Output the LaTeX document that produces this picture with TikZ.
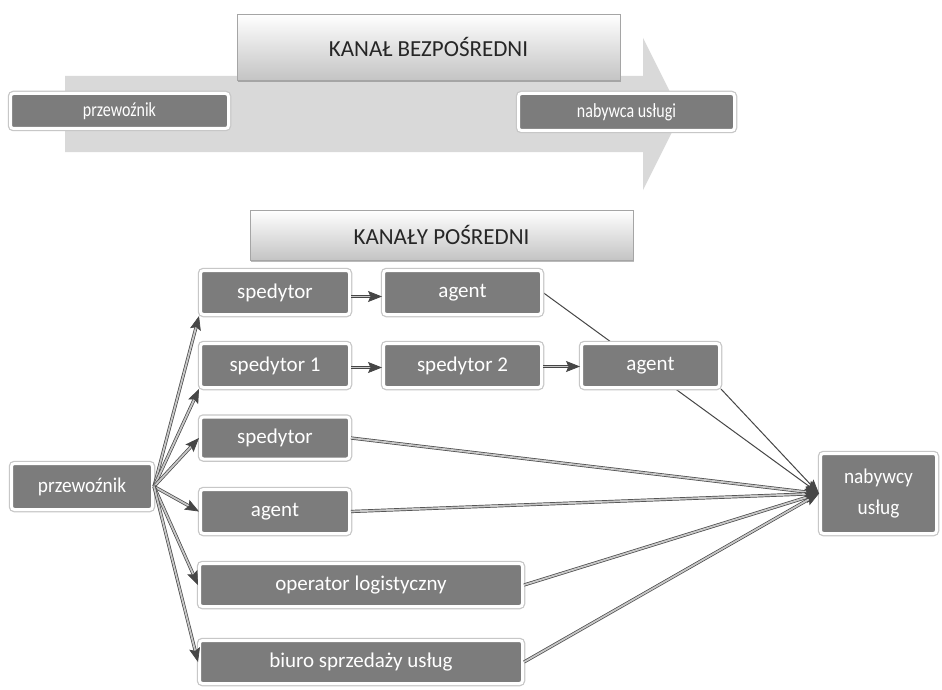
\documentclass[tikz,border=0pt]{standalone}
\usepackage{fontspec}
\setmainfont{Carlito}
\usepackage{graphicx}
\usetikzlibrary{calc,shadows,arrows.meta}
\pgfdeclarelayer{bg}
\pgfsetlayers{bg,main}
\definecolor{boxgray}{RGB}{124,124,124}
\definecolor{bandgray}{RGB}{217,217,217}
\definecolor{linegray}{RGB}{70,70,70}
\definecolor{titlebot}{RGB}{196,196,196}
\definecolor{titleedge}{RGB}{165,165,165}
\tikzset{
  darkbox/.style={rectangle, rounded corners=3pt, fill=boxgray, draw=white, line width=3pt,
    text=white, inner sep=0pt, align=center, preaction={draw=black!22, line width=5.5pt}},
  titlebox/.style={rectangle, top color=white, bottom color=titlebot, draw=titleedge,
    line width=0.8pt, text=black!85, inner sep=0pt,
    drop shadow={shadow xshift=1.2pt, shadow yshift=-2.2pt, opacity=0.45, fill=black!60}},
  bigtxt/.style={font=\fontsize{21}{31}\selectfont},
  smalltxt/.style={font=\fontsize{20}{22}\selectfont},
  titletxt/.style={font=\fontsize{23}{25}\selectfont},
  dbl/.style={draw=linegray, line width=0.7pt, double=black!22, double distance=1.8pt},
  tipln/.style={draw=linegray, line width=0.7pt, -{Stealth[length=14pt,width=11pt,inset=2.5pt]}},
  sgl/.style={draw=linegray, line width=1pt, -{Stealth[length=14pt,width=11pt,inset=2.5pt]}},
}
\newcommand\dblarrow[2]{\draw[dbl] (#1) -- ($(#2)!10pt!(#1)$); \draw[tipln] ($(#2)!11pt!(#1)$) -- (#2);}
\newcommand\narrowtxt[1]{\scalebox{0.8}[1]{#1}}
\begin{document}
\begin{tikzpicture}[x=1pt,y=-1pt]
\useasboundingbox (0,0) rectangle (942,690);
\begin{pgfonlayer}{bg}
\fill[white] (0,0) rectangle (942,690);
\end{pgfonlayer}
% direct channel
\fill[bandgray] (65,76) -- (643,76) -- (643,38) -- (681,114) -- (643,190) -- (643,152) -- (65,152) -- cycle;
\node[titlebox, titletxt, minimum width=383pt, minimum height=66pt] (kb) at (428.5,47) {KANAŁ BEZPOŚREDNI};
\node[darkbox, smalltxt, minimum width=218pt, minimum height=35pt] (tprz) at (119.5,111) {\narrowtxt{przewoźnik}};
\node[darkbox, smalltxt, minimum width=216pt, minimum height=37pt] (tnab) at (626.5,112) {\narrowtxt{nabywca usługi}};
% indirect channels
\node[titlebox, titletxt, minimum width=383pt, minimum height=50pt] (kp) at (441.5,235) {KANAŁY POŚREDNI};
\node[darkbox, bigtxt, minimum width=149pt, minimum height=44pt] (sp1) at (275,292.5) {spedytor};
\node[darkbox, bigtxt, minimum width=158pt, minimum height=44pt] (ag1) at (462.5,292.5) {agent};
\node[darkbox, bigtxt, minimum width=149pt, minimum height=44pt] (spx) at (275,365.5) {spedytor 1};
\node[darkbox, bigtxt, minimum width=158pt, minimum height=44pt] (sp2) at (462.5,365.5) {spedytor 2};
\node[darkbox, bigtxt, minimum width=138pt, minimum height=44pt] (ag2) at (650.5,365.5) {agent};
\node[darkbox, bigtxt, minimum width=149pt, minimum height=42pt] (sp3) at (275,438) {spedytor};
\node[darkbox, bigtxt, minimum width=141pt, minimum height=46pt] (prz) at (82,486.5) {\scalebox{0.92}[1]{przewoźnik}};
\node[darkbox, bigtxt, minimum width=149pt, minimum height=44pt] (ag4) at (275,511.5) {agent};
\node[darkbox, bigtxt, minimum width=323pt, minimum height=43pt] (op) at (361,585) {operator logistyczny};
\node[darkbox, bigtxt, minimum width=323pt, minimum height=43pt] (bs) at (361,662) {biuro sprzedaży usług};
\node[darkbox, bigtxt, minimum width=116pt, minimum height=80pt] (nab) at (878.5,493.5) {\scalebox{0.92}[1]{nabywcy}\\\scalebox{0.92}[1]{usług}};
% connectors
\begin{pgfonlayer}{bg}
\draw[sgl] (ag1.east) -- (nab.west);
\end{pgfonlayer}
\draw[sgl] (ag2.south east) -- (nab.west);
\coordinate (r1a) at ([yshift=-4pt]sp1.east);
\coordinate (r1b) at ([yshift=-4pt]ag1.west);
\coordinate (r2a) at ([yshift=-2pt]spx.east);
\coordinate (r2b) at ([yshift=-2pt]sp2.west);
\coordinate (r3a) at ([yshift=-1pt]sp2.east);
\coordinate (r3b) at ([yshift=-1pt]ag2.west);
\dblarrow{r1a}{r1b}
\dblarrow{r2a}{r2b}
\dblarrow{r3a}{r3b}
\dblarrow{prz.east}{sp1.south west}
\dblarrow{prz.east}{spx.south west}
\dblarrow{prz.east}{sp3.west}
\dblarrow{prz.east}{ag4.west}
\dblarrow{prz.east}{op.west}
\dblarrow{prz.east}{bs.west}
\dblarrow{sp3.east}{nab.west}
\dblarrow{ag4.east}{nab.west}
\dblarrow{op.east}{nab.west}
\dblarrow{bs.east}{nab.west}
\end{tikzpicture}
\end{document}
